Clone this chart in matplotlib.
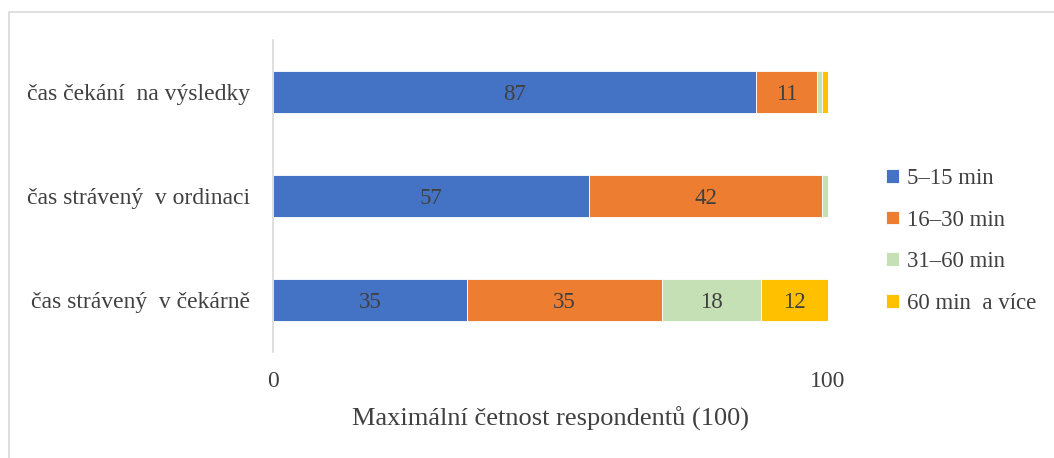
import matplotlib
matplotlib.use("Agg")
import matplotlib.pyplot as plt
import numpy as np
from matplotlib.patches import Rectangle

categories = ["čas strávený  v čekárně", "čas strávený  v ordinaci", "čas čekání  na výsledky"]
series_names = ["5–15 min", "16–30 min", "31–60 min", "60 min  a více"]
values = [
    [35, 57, 87],   # 5-15 min
    [35, 42, 11],   # 16-30 min
    [18, 1, 1],     # 31-60 min
    [12, 0, 1],     # 60 min a vice
]
colors = ["#4472C4", "#ED7D31", "#C5E0B4", "#FFC000"]

plt.rcParams["font.family"] = ["Liberation Serif", "DejaVu Serif"]
TXT = "#404040"

fig = plt.figure(figsize=(10.54, 4.58), dpi=100)
fig.patches.append(Rectangle((9 / 1054, -0.01), 1.0, 1.01 - 12 / 458,
                             transform=fig.transFigure, fill=False,
                             edgecolor="#d9d9d9", linewidth=1.2))

ax = fig.add_axes([273 / 1054, 1 - 352 / 458, 555 / 1054, 312 / 458])
y = np.arange(len(categories))
left = np.zeros(len(categories))
for name, vals, col in zip(series_names, values, colors):
    vals = np.array(vals, dtype=float)
    bars = ax.barh(y, vals, left=left, height=0.4, color=col, label=name,
                   edgecolor="white", linewidth=0.6)
    left += vals
    # only segments wide enough get a value label
    for b, v in zip(bars, vals):
        if v >= 5:
            ax.text(b.get_x() + b.get_width() / 2, b.get_y() + b.get_height() / 2 - 0.02,
                    f"{int(v)}", ha="center", va="center", fontsize=16.5, color=TXT)

ax.set_xlim(0, 100)
ax.set_ylim(-0.5, 2.5)
ax.set_yticks(y)
ax.set_yticklabels(categories, fontsize=17, color=TXT)
ax.set_xticks([0, 100])
ax.set_xticklabels(["0", "100"], fontsize=17, color=TXT)
ax.tick_params(axis="both", length=0)
ax.tick_params(axis="y", pad=16.5)
ax.tick_params(axis="x", pad=14)
for s in ["top", "right", "bottom"]:
    ax.spines[s].set_visible(False)
ax.spines["left"].set_color("#d9d9d9")
ax.spines["left"].set_linewidth(1.2)
ax.set_xlabel("Maximální četnost respondentů (100)", fontsize=19, color=TXT, labelpad=10)

leg = fig.legend(loc="center left", bbox_to_anchor=(877 / 1054, 1 - 241 / 458),
                 frameon=False, fontsize=16.5, handlelength=0.55, handleheight=0.55,
                 handletextpad=0.35, labelspacing=0.9, borderaxespad=0)
for t in leg.get_texts():
    t.set_color(TXT)

fig.savefig("out.png", dpi=100)
